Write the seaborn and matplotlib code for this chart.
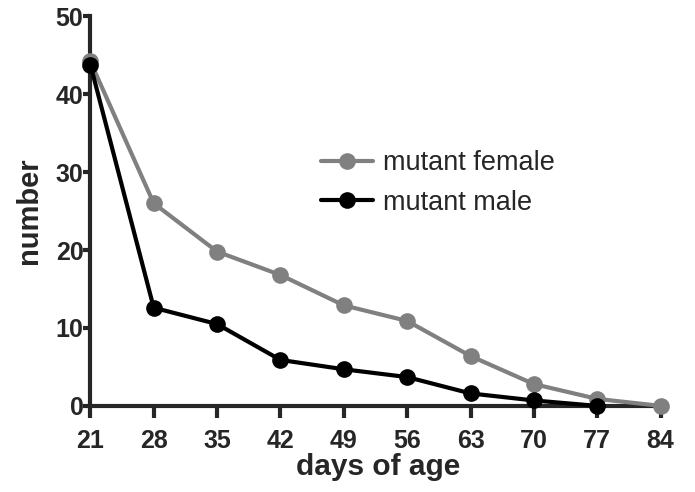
import pandas as pd
import matplotlib
matplotlib.use("Agg")
import matplotlib.pyplot as plt
import seaborn as sns

# values
days = [21, 28, 35, 42, 49, 56, 63, 70, 77, 84]
female = [44.2, 26.0, 19.8, 16.8, 12.9, 10.9, 6.4, 2.8, 0.9, 0.0]
male_days = [21, 28, 35, 42, 49, 56, 63, 70, 77]
male = [43.8, 12.6, 10.5, 5.9, 4.7, 3.7, 1.6, 0.7, 0.0]

data = pd.concat([
    pd.DataFrame({'day': days, 'number': female, 'group': 'mutant female'}),
    pd.DataFrame({'day': male_days, 'number': male, 'group': 'mutant male'}),
])

sns.set_style('ticks')
plt.rcParams['font.family'] = ['Liberation Sans', 'DejaVu Sans']

fig = plt.figure(figsize=(6.95, 4.92), dpi=100)
ax = fig.add_axes([0.13, 0.175, 0.827, 0.792])

sns.lineplot(data=data, x='day', y='number', hue='group',
             palette={'mutant female': '#808080', 'mutant male': '#000000'},
             marker='o', markersize=12, markeredgewidth=0, linewidth=3,
             ax=ax, clip_on=False, zorder=3)

ax.set_xlim(21, 84.5)
ax.set_ylim(0, 50)
ax.set_xticks(days)
ax.set_yticks([0, 10, 20, 30, 40, 50])
sns.despine(ax=ax)
for s in ['left', 'bottom']:
    ax.spines[s].set_linewidth(3)
ax.tick_params(axis='x', width=3, length=8.5, labelsize=18, pad=8)
ax.tick_params(axis='y', width=3, length=5, labelsize=18, pad=0)
for lab in ax.get_xticklabels() + ax.get_yticklabels():
    lab.set_fontweight('bold')
ax.set_xlabel('days of age', fontsize=21.5, fontweight='bold', labelpad=0)
ax.set_ylabel('number', fontsize=21, fontweight='bold', labelpad=9)

leg = ax.legend(loc='center left', bbox_to_anchor=(0.402, 0.572), frameon=False,
                fontsize=19.5, handlelength=1.9, handletextpad=0.38,
                labelspacing=0.5, borderpad=0, borderaxespad=0, title=None)

fig.savefig('out.png', dpi=100)
